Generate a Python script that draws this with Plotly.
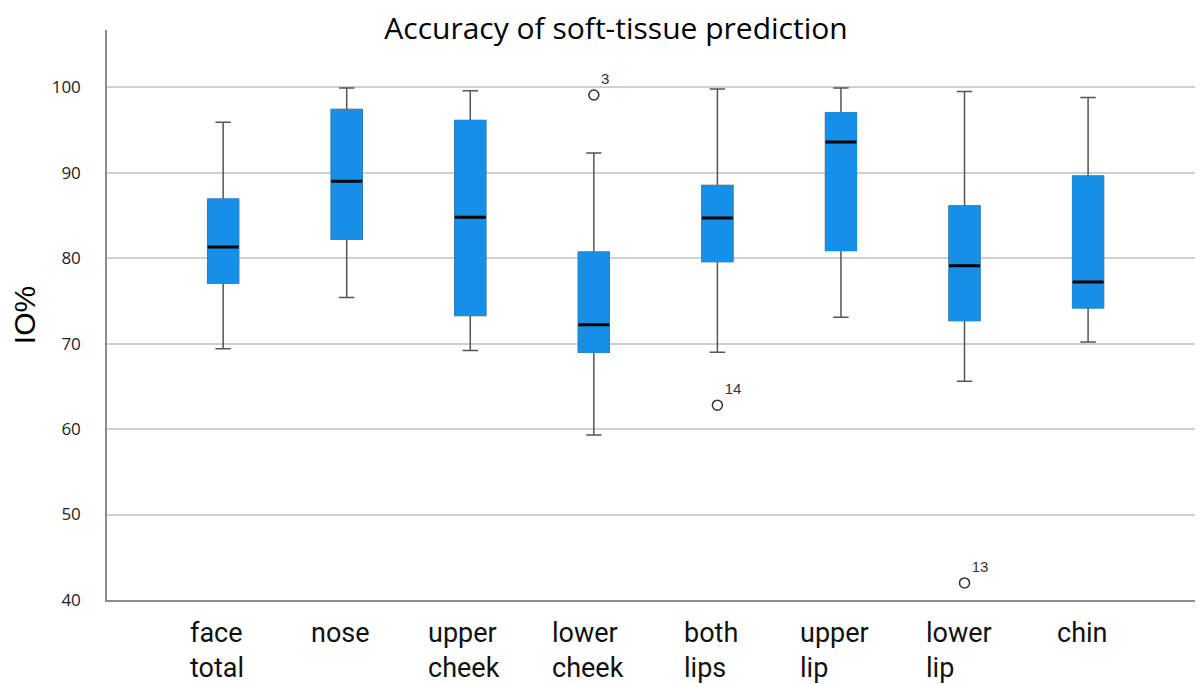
import plotly.graph_objects as go

categories = ["face total", "nose", "upper cheek", "lower cheek", "both lips", "upper lip", "lower lip", "chin"]
tick_labels = ["face<br>total", "nose", "upper<br>cheek", "lower<br>cheek", "both<br>lips", "upper<br>lip", "lower<br>lip", "chin"]
whisker_low = [69.4, 75.4, 69.2, 59.3, 69.0, 73.1, 65.6, 70.2]
q1 = [77.1, 82.2, 73.3, 69.0, 79.6, 80.9, 72.7, 74.2]
median = [81.3, 89.0, 84.8, 72.2, 84.7, 93.6, 79.1, 77.2]
q3 = [86.9, 97.4, 96.1, 80.7, 88.5, 97.0, 86.1, 89.6]
whisker_high = [95.9, 99.9, 99.6, 92.3, 99.8, 99.9, 99.5, 98.8]

outlier_cat = ["lower cheek", "both lips", "lower lip"]
outlier_val = [99.1, 62.8, 42.0]
outlier_id = ["3", "14", "13"]

BLUE = "#1690e6"
GRAY = "#555555"
BW = 0.25

# page body has an 8px margin; size figure so plot area lands where the reference has it
W, H = 1195, 676

fig = go.Figure()

# whiskers (gray) + box
fig.add_trace(go.Box(
    x=categories, q1=q1, median=median, q3=q3,
    lowerfence=whisker_low, upperfence=whisker_high,
    fillcolor=BLUE, line=dict(color=GRAY, width=1.5),
    width=BW, whiskerwidth=0.5, boxpoints=False,
    hoverinfo="skip", showlegend=False,
))
# blue box overlay hiding gray outline
fig.add_trace(go.Box(
    x=categories, q1=q1, median=median, q3=q3,
    lowerfence=q1, upperfence=q3,
    fillcolor=BLUE, line=dict(color=BLUE, width=1),
    width=BW, whiskerwidth=1, boxpoints=False,
    hoverinfo="skip", showlegend=False,
))
# black median lines
fig.add_trace(go.Box(
    x=categories, q1=median, median=median, q3=median,
    lowerfence=median, upperfence=median,
    fillcolor="black", line=dict(color="black", width=3),
    width=BW, whiskerwidth=0, boxpoints=False,
    hoverinfo="skip", showlegend=False,
))
# outliers
fig.add_trace(go.Scatter(
    x=outlier_cat, y=outlier_val, mode="markers+text",
    text=outlier_id, textposition="top right",
    textfont=dict(family="Liberation Sans, Arial", size=15, color="#333333"),
    marker=dict(symbol="circle-open", size=10, color="#333333", line=dict(width=1.5)),
    hoverinfo="skip", showlegend=False,
))

for cat, lab in zip(categories, tick_labels):
    fig.add_annotation(
        x=cat, xref="x", y=0, yref="paper", yanchor="top", xanchor="center",
        xshift=-6, yshift=-15, text=lab, showarrow=False, align="left",
        font=dict(family="Roboto", size=27, color="#111111"),
    )

fig.update_layout(
    width=W, height=H,
    margin=dict(l=99, r=0, t=22, b=84),
    paper_bgcolor="white", plot_bgcolor="white",
    boxmode="overlay",
    title=dict(text="Accuracy of soft-tissue prediction", x=(616 - 8) / W, xanchor="center",
               y=1 - (28 - 8) / H, yanchor="middle", yref="container",
               font=dict(family="Open Sans", size=30, color="black")),
    xaxis=dict(type="category", categoryorder="array", categoryarray=categories,
               range=[-0.94, 7.93], showticklabels=False, showgrid=False,
               showline=True, linecolor="#8c8c8c", linewidth=1.5, zeroline=False),
    yaxis=dict(range=[40, 106.7], tickvals=[40, 50, 60, 70, 80, 90, 100],
               showgrid=True, gridcolor="#cfcfcf", gridwidth=1.5,
               showline=True, linecolor="#8c8c8c", linewidth=1.5, zeroline=False,
               ticks="", ticklabelstandoff=21,
               tickfont=dict(family="Open Sans", size=17, color="#222222"),
               title=dict(text="IO%", standoff=14,
                          font=dict(family="Liberation Sans, Arial", size=30, color="black"))),
)

fig.write_html("out.html")
